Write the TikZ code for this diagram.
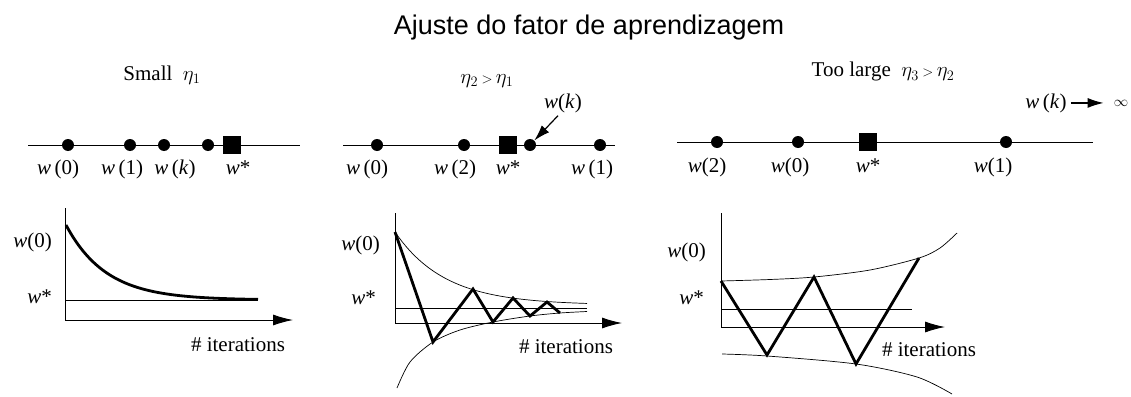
\documentclass[tikz,border=0pt]{standalone}
\usepackage{fontspec}
\setmainfont{Liberation Serif}
\newfontfamily\titlefont{Liberation Sans}
\usetikzlibrary{arrows.meta,calc}
\newcommand\wv{\textit{w}}
\begin{document}
\begin{tikzpicture}[x=1pt,y=-1pt,
  lbl/.style={font=\fontsize{21}{24}\selectfont, inner sep=0pt, anchor=base},
  lble/.style={lbl, anchor=base east},
  dot/.style={circle, fill=black, inner sep=0pt, minimum size=12pt},
  sq/.style={rectangle, fill=black, inner sep=0pt, minimum size=18.5pt},
  thinline/.style={line width=0.9pt},
  env/.style={line width=0.7pt},
  heavy/.style={line width=2.8pt, line join=miter, line cap=butt},
  axarrow/.style={line width=0.9pt, -{Latex[length=20pt,width=11pt]}},
  ptr/.style={line width=1.2pt, -{Latex[length=16pt,width=10pt]}}
]
\useasboundingbox (0,0) rectangle (1131,396);
\fill[white] (0,0) rectangle (1131,396);

% title
\node[inner sep=0pt, anchor=base, font=\titlefont\fontsize{27}{30}\selectfont] (title) at (589,35) {Ajuste do fator de aprendizagem};

% ---------- panel 1 top ----------
\node[lbl] (t1) at (162,80) {Small\ \ $\eta_1$};
\coordinate (a1) at (28,145);
\coordinate (b1) at (300,145);
\draw[thinline] (a1) -- (b1);
\node[dot] (d10) at (68,145) {};
\node[dot] (d11) at (130,145) {};
\node[dot] (d1k) at (164,145) {};
\node[dot] (d13) at (208,145) {};
\node[sq] (s1) at (232,145) {};
\node[lbl] (l10) at (58,174) {\wv\,(0)};
\node[lbl] (l11) at (122,174) {\wv\,(1)};
\node[lbl] (l1k) at (175,174) {\wv\,(\textit{k})};
\node[lbl] (l1s) at (238,174) {\wv*};

% ---------- panel 2 top ----------
\node[lbl] (t2) at (487,83) {$\eta_2\,{\scriptstyle >}\,\eta_1$};
\coordinate (a2) at (343,145);
\coordinate (b2) at (615,145);
\draw[thinline] (a2) -- (b2);
\node[dot] (d20) at (377,145) {};
\node[dot] (d22) at (464,145) {};
\node[sq] (s2) at (508,145) {};
\node[dot] (d2k) at (530,145) {};
\node[dot] (d21) at (600,145) {};
\node[lbl] (l20) at (367,174) {\wv\,(0)};
\node[lbl] (l22) at (455,174) {\wv\,(2)};
\node[lbl] (l2s) at (508,174) {\wv*};
\node[lbl] (l21) at (592,174) {\wv\,(1)};
\node[lbl] (wk2) at (563,108) {\wv(\textit{k})};
\draw[ptr] ($(wk2.south)+(-5,3)$) -- (d2k);

% ---------- panel 3 top ----------
\node[lbl] (t3) at (883,77) {Too large\ \ $\eta_3\,{\scriptstyle >}\,\eta_2$};
\coordinate (a3) at (677,142);
\coordinate (b3) at (1093,142);
\draw[thinline] (a3) -- (b3);
\node[dot] (d32) at (717,142) {};
\node[dot] (d30) at (798,142) {};
\node[sq] (s3) at (868,142) {};
\node[dot] (d31) at (1006,142) {};
\node[lbl] (l32) at (707,172) {\wv(2)};
\node[lbl] (l30) at (790,172) {\wv(0)};
\node[lbl] (l3s) at (868,172) {\wv*};
\node[lbl] (l31) at (993,172) {\wv(1)};
\node[lbl] (wk3) at (1046,108) {\wv\,(\textit{k})};
\node[lbl, font=\fontsize{15}{18}\selectfont] (inf) at (1121,106) {$\infty$};
\coordinate (wk3t) at ($(wk3.east)+(4,0)$);
\draw[ptr, shorten >=10pt] (wk3t) -- (wk3t -| inf.west);

% ---------- panel 1 bottom ----------
\coordinate (o1) at (65,320);
\coordinate (y1) at (65,208);
\coordinate (x1) at (293,320);
\draw[thinline] (y1) -- (o1);
\draw[axarrow] (o1) -- (x1);
\coordinate (ws1a) at (65,300);
\coordinate (ws1b) at (258,300);
\draw[thinline] (ws1a) -- (ws1b);
\draw[heavy, line cap=butt] plot[domain=66:258, samples=80] (\x, {300-75*exp(-(\x-66)/40)});
\node[lble] (bl10) at (52,247) {\wv(0)};
\node[lble] (bl1s) at (52,303) {\wv*};
\node[lbl] (it1) at (238,351) {\# iterations};

% ---------- panel 2 bottom ----------
\coordinate (o2) at (395,323);
\coordinate (y2) at (395,213);
\coordinate (x2) at (622,323);
\draw[thinline] (y2) -- (o2);
\draw[axarrow] (o2) -- (x2);
\coordinate (ws2a) at (395,308);
\coordinate (ws2b) at (587,308);
\draw[thinline] (ws2a) -- (ws2b);
\draw[env] plot[domain=395:587, samples=80] (\x, {305-73*exp(-(\x-395)/50)});
\draw[env] plot[smooth] coordinates {(397,388) (410,362) (433,342) (460,330) (493,322) (530,316) (560,313) (587,311.5)};
\draw[heavy] (395,232) -- (433,342) -- (473,289) -- (493,322) -- (513,298) -- (530,316) -- (547,302) -- (560,313);
\node[lble] (bl20) at (380,250) {\wv(0)};
\node[lble] (bl2s) at (376,304) {\wv*};
\node[lbl] (it2) at (566,353) {\# iterations};

% ---------- panel 3 bottom ----------
\coordinate (o3) at (721,327);
\coordinate (y3) at (721,213);
\coordinate (x3) at (945,327);
\draw[thinline] (y3) -- (o3);
\draw[axarrow] (o3) -- (x3);
\coordinate (ws3a) at (721,309);
\coordinate (ws3b) at (912,309);
\draw[thinline] (ws3a) -- (ws3b);
\draw[env] plot[smooth] coordinates {(721,281) (770,279.5) (814,277) (870,270) (919,258) (940,248) (957,233)};
\draw[env] plot[smooth] coordinates {(722,354) (767,356) (856,364) (917,377) (952,394)};
\draw[heavy] (721,281) -- (767,355) -- (814,277) -- (856,364) -- (919,258);
\node[lble] (bl30) at (706,257) {\wv(0)};
\node[lble] (bl3s) at (704,304) {\wv*};
\node[lbl] (it3) at (929,356) {\# iterations};
\end{tikzpicture}
\end{document}
